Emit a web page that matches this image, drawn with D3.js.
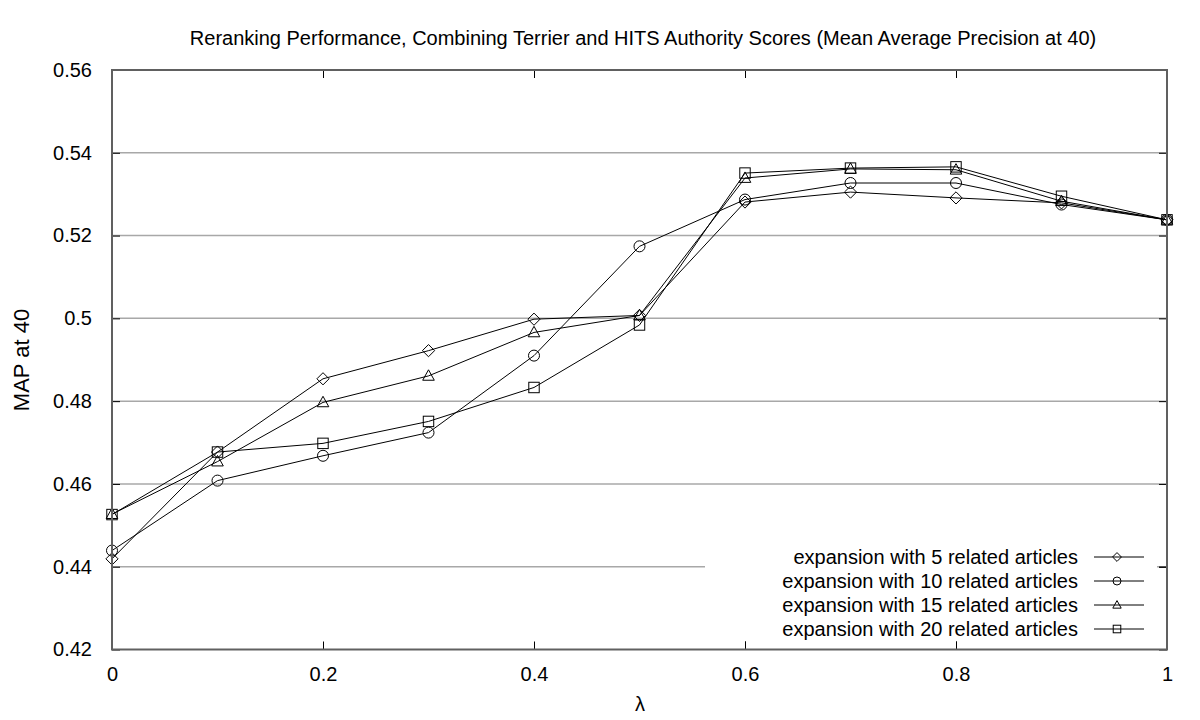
<!DOCTYPE html>
<html><head><meta charset="utf-8">
<script src="https://cdn.jsdelivr.net/npm/d3@7"></script>
<style>body{margin:0;background:#fff}svg{display:block}text{font-family:"Liberation Sans",Arial,sans-serif;fill:#000}</style>
</head><body>
<svg id="c" width="1200" height="720"></svg>
<script>
const lambdas = [0,0.1,0.2,0.3,0.4,0.5,0.6,0.7,0.8,0.9,1];
const s5  = [0.4419,0.4677,0.4854,0.4922,0.4998,0.5007,0.5281,0.5305,0.5291,0.5279,0.5238];
const s10 = [0.4439,0.4608,0.4668,0.4724,0.4910,0.5174,0.5287,0.5327,0.5327,0.5275,0.5238];
const s15 = [0.4527,0.4654,0.4797,0.4861,0.4966,0.5007,0.5339,0.5361,0.5359,0.5283,0.5238];
const s20 = [0.4526,0.4677,0.4698,0.4751,0.4833,0.4984,0.5351,0.5363,0.5366,0.5295,0.5238];
const seriesNames = ["expansion with 5 related articles","expansion with 10 related articles","expansion with 15 related articles","expansion with 20 related articles"];
const markers = ["diamond","circle","triangle","square"];
const xTicks = [0,0.2,0.4,0.6,0.8,1];
const yTicks = [0.42,0.44,0.46,0.48,0.50,0.52,0.54,0.56];
const yTickLabels = ["0.42","0.44","0.46","0.48","0.5","0.52","0.54","0.56"];
const title = "Reranking Performance, Combining Terrier and HITS Authority Scores (Mean Average Precision at 40)";

const svg = d3.select("#c");
const L=112,R=1167,T=70,B=649.5;
const x = d3.scaleLinear().domain([0,1]).range([L,R]);
const y = d3.scaleLinear().domain([0.42,0.56]).range([B,T]);
const FS="20px";

// gridlines
svg.append("g").selectAll("line").data(yTicks.filter(v=>v>0.42&&v<0.56)).join("line")
  .attr("x1",L).attr("x2",R).attr("y1",d=>y(d)).attr("y2",d=>y(d))
  .attr("stroke","#a8a8a8").attr("stroke-width",1.5);

// axes with inward ticks
const tl=8;
const gx = svg.append("g").attr("transform",`translate(0,${B})`)
  .call(d3.axisBottom(x).tickValues(xTicks).tickSize(-tl).tickPadding(tl+9).tickFormat(d3.format("~g")));
const gxt = svg.append("g").attr("transform",`translate(0,${T})`)
  .call(d3.axisTop(x).tickValues(xTicks).tickSize(-tl).tickFormat(""));
const gy = svg.append("g").attr("transform",`translate(${L},0)`)
  .call(d3.axisLeft(y).tickValues(yTicks).tickSize(-tl).tickPadding(tl+12).tickFormat((d,i)=>yTickLabels[i]));
const gyr = svg.append("g").attr("transform",`translate(${R},0)`)
  .call(d3.axisRight(y).tickValues(yTicks).tickSize(-tl).tickFormat(""));
[gx,gxt,gy,gyr].forEach(g=>{
  g.select(".domain").remove();
  g.selectAll(".tick line").attr("stroke","#000").attr("stroke-width",1);
  g.selectAll("text").style("font-size",FS).style("font-family","'Liberation Sans',Arial,sans-serif");
});

// series
const all=[s5,s10,s15,s20];
const line = d3.line().x((d,i)=>x(lambdas[i])).y(d=>y(d));
all.forEach(s=>{
  svg.append("path").datum(s).attr("d",line).attr("fill","none").attr("stroke","#000").attr("stroke-width",1);
});

function marker(g,type,cx,cy,sz){
  const r=sz;
  let sel;
  if(type==="circle") sel=g.append("circle").attr("cx",cx).attr("cy",cy).attr("r",r*0.95);
  else if(type==="square") sel=g.append("rect").attr("x",cx-r*0.9).attr("y",cy-r*0.9).attr("width",r*1.8).attr("height",r*1.8);
  else if(type==="diamond") sel=g.append("path").attr("d",`M${cx},${cy-r*1.05}L${cx+r*1.05},${cy}L${cx},${cy+r*1.05}L${cx-r*1.05},${cy}Z`);
  else sel=g.append("path").attr("d",`M${cx},${cy-r*1.05}L${cx+r},${cy+r*0.75}L${cx-r},${cy+r*0.75}Z`);
  sel.attr("fill","none").attr("stroke","#000").attr("stroke-width",1);
}
const mg=svg.append("g");
all.forEach((s,k)=>{
  s.forEach((v,i)=>marker(mg,markers[k],x(lambdas[i]),y(v),5.8));
});

// legend with white background
const lg=svg.append("g");
lg.append("rect").attr("x",705).attr("y",543).attr("width",452).attr("height",97).attr("fill","#fff");
svg.append("g").attr("transform",`translate(0,${B})`)
  .call(d3.axisBottom(x).tickValues([0.6,0.8]).tickSize(-tl).tickFormat(""))
  .call(g=>{g.select(".domain").remove();g.selectAll("line").attr("stroke","#000");});
svg.append("g").attr("transform",`translate(${R},0)`)
  .call(d3.axisRight(y).tickValues([0.44]).tickSize(-tl).tickFormat(""))
  .call(g=>{g.select(".domain").remove();g.selectAll("line").attr("stroke","#000");});
seriesNames.forEach((n,k)=>{
  const yy=557+k*24;
  lg.append("text").attr("x",1078).attr("y",yy).attr("dy","0.35em").attr("text-anchor","end")
    .style("font-size","20px").text(n);
  lg.append("line").attr("x1",1094).attr("x2",1144).attr("y1",yy).attr("y2",yy).attr("stroke","#000");
  marker(lg,markers[k],1117,yy,4.2);
});

// border
svg.append("rect").attr("x",L).attr("y",T).attr("width",R-L).attr("height",B-T)
  .attr("fill","none").attr("stroke","#606060").attr("stroke-width",2);

// titles
svg.append("text").attr("x",643).attr("y",45).attr("text-anchor","middle").style("font-size","20px").text(title);
svg.append("text").attr("x",640).attr("y",711).attr("text-anchor","middle").style("font-size","20px").text("λ");
svg.append("text").attr("transform","translate(29,360) rotate(-90)").attr("text-anchor","middle").style("font-size","22px").text("MAP at 40");
</script>
</body></html>
